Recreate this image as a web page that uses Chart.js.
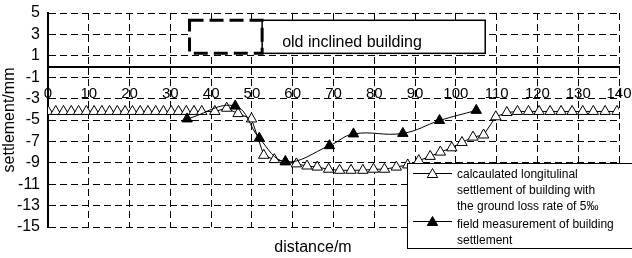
<!DOCTYPE html>
<html>
<head>
<meta charset="utf-8">
<script src="https://cdn.jsdelivr.net/npm/chart.js@4/dist/chart.umd.min.js"></script>
<style>
  body { margin: 0; background: #fff; }
  #box { width: 632px; height: 258px; position: relative; }
</style>
</head>
<body>
<div id="box"><canvas id="grafico"></canvas></div>
<script>
// ticks
const xTicks = [0, 10, 20, 30, 40, 50, 60, 70, 80, 90, 100, 110, 120, 130, 140];
const yTicks = [-15, -13, -11, -9, -7, -5, -3, -1, 1, 3, 5];

// calculated settlement (open triangles)
const calcX = [0, 1.9, 3.8, 5.7, 7.5, 9.4, 11.3, 13.2, 15.1, 17.0, 18.9, 20.7, 22.6, 24.5, 26.4, 28.3, 30.2, 32.0, 33.9, 35.8, 37.7,
  40.9, 43.8, 46.6, 49.9, 52.9, 55.5, 58.2, 60.9, 63.5, 66.0, 68.8, 71.5, 74.3, 77.2, 79.8, 82.5, 85.4, 88.2, 90.9,
  93.7, 96.2, 99.0, 101.5, 104.2, 106.8, 109.8, 112.5, 115.1, 117.8, 120.4, 123.1, 125.8, 128.5, 131.1, 133.7, 136.6, 139.5];
const calcY = [-4.2, -4.2, -4.2, -4.2, -4.2, -4.2, -4.2, -4.2, -4.2, -4.2, -4.2, -4.2, -4.2, -4.2, -4.2, -4.2, -4.2, -4.2, -4.2, -4.2, -4.2,
  -4.2, -3.9, -4.4, -4.9, -8.3, -8.7, -8.9, -9.1, -9.3, -9.4, -9.6, -9.7, -9.7, -9.7, -9.6, -9.6, -9.4, -9.2, -8.8,
  -8.4, -8.0, -7.6, -7.1, -6.6, -6.4, -4.7, -4.3, -4.2, -4.2, -4.2, -4.2, -4.2, -4.2, -4.2, -4.2, -4.2, -4.2];

// field measurement (filled triangles)
const measX = [34.1, 45.9, 51.8, 58.2, 69.0, 74.9, 87.0, 96.0, 105.0];
const measY = [-4.9, -3.7, -6.7, -8.9, -7.4, -6.3, -6.25, -5.05, -4.1];

const legendLabels = [
  ["calcaulated longitulinal", "settlement of building with", "the ground loss rate of 5‰"],
  ["field measurement of building", "settlement"]
];
const buildingLabel = "old inclined building";
const xTitle = "distance/m";
const yTitle = "settlement/mm";

// rettangoli dell'edificio (coordinate dati)
const building = { dashed: [34.7, 52.5], solid: [52.5, 107.2], top: 4.32, bottom: 1.23 };

const FONT = "'Liberation Sans', Arial, sans-serif";

function toPoints(xs, ys) {
  return xs.map((x, i) => ({ x: x, y: ys[i] }));
}

// niente padding automatico delle etichette
function noPad(s) {
  s.paddingLeft = 0; s.paddingRight = 0; s.paddingTop = 0; s.paddingBottom = 0;
}

function triangle(ctx, x, y, r, fill) {
  ctx.beginPath();
  ctx.moveTo(x, y - r);
  ctx.lineTo(x + r * 0.866, y + r * 0.5);
  ctx.lineTo(x - r * 0.866, y + r * 0.5);
  ctx.closePath();
  ctx.fillStyle = fill;
  ctx.fill();
  ctx.lineWidth = 1;
  ctx.strokeStyle = '#000';
  ctx.stroke();
}

// edificio + titolo asse x + legenda
const extras = {
  id: 'extras',
  beforeDatasetsDraw(chart) {
    const ctx = chart.ctx, xs = chart.scales.x, ys = chart.scales.y;
    const t = ys.getPixelForValue(building.top), b = ys.getPixelForValue(building.bottom);
    const s0 = xs.getPixelForValue(building.solid[0]), s1 = xs.getPixelForValue(building.solid[1]);
    const d0 = xs.getPixelForValue(building.dashed[0]), d1 = xs.getPixelForValue(building.dashed[1]);
    ctx.save();
    ctx.fillStyle = '#fff';
    ctx.fillRect(d0, t, s1 - d0, b - t);
    ctx.strokeStyle = '#000';
    ctx.lineWidth = 1.5;
    ctx.strokeRect(s0, t, s1 - s0, b - t);
    ctx.lineWidth = 3;
    ctx.setLineDash([14, 6]);
    ctx.strokeRect(d0, t, d1 - d0, b - t);
    ctx.setLineDash([]);
    ctx.fillStyle = '#000';
    ctx.font = '16px ' + FONT;
    ctx.textBaseline = 'alphabetic';
    ctx.fillText(buildingLabel, s0 + 20, b - 6);
    ctx.restore();
  },
  afterDraw(chart) {
    const ctx = chart.ctx;
    ctx.save();
    // titolo asse x
    ctx.fillStyle = '#000';
    ctx.font = '16px ' + FONT;
    ctx.textAlign = 'center';
    ctx.textBaseline = 'middle';
    ctx.fillText(xTitle, 313, 248);

    // legenda
    ctx.fillStyle = '#fff';
    ctx.fillRect(407, 163, 226, 86);
    ctx.strokeStyle = '#000';
    ctx.lineWidth = 1;
    ctx.strokeRect(407.5, 163.5, 226, 85);
    const rows = [173.5, 221.5];
    const fills = ['#fff', '#000'];
    let lineY = [[175, 191, 207], [225, 241]];
    ctx.font = '12px ' + FONT;
    ctx.textAlign = 'left';
    rows.forEach((ry, k) => {
      ctx.beginPath();
      ctx.moveTo(413, ry);
      ctx.lineTo(452, ry);
      ctx.strokeStyle = '#000';
      ctx.lineWidth = 1;
      ctx.stroke();
      triangle(ctx, 432.5, ry + 1, 6, fills[k]);
      ctx.fillStyle = '#000';
      legendLabels[k].forEach((txt, j) => {
        ctx.fillText(txt, 457, lineY[k][j]);
      });
    });
    ctx.restore();
  }
};

new Chart(document.getElementById('grafico'), {
  type: 'line',
  data: {
    datasets: [{
      label: legendLabels[0].join(' '),
      data: toPoints(calcX, calcY),
      borderColor: '#000',
      borderWidth: 1,
      pointStyle: 'triangle',
      pointRadius: 6,
      pointBackgroundColor: '#fff',
      pointBorderColor: '#000',
      pointBorderWidth: 1,
      tension: 0,
      order: 1
    }, {
      label: legendLabels[1].join(' '),
      data: toPoints(measX, measY),
      borderColor: '#000',
      borderWidth: 1,
      pointStyle: 'triangle',
      pointRadius: 6,
      pointBackgroundColor: '#000',
      pointBorderColor: '#000',
      pointBorderWidth: 1,
      tension: 0.4,
      order: 0
    }]
  },
  options: {
    responsive: true,
    maintainAspectRatio: false,
    animation: false,
    events: [],
    layout: { padding: { top: 13, right: 13, bottom: 31, left: 0 } },
    plugins: { legend: { display: false }, tooltip: { enabled: false } },
    scales: {
      x: {
        type: 'linear',
        axis: 'x',
        position: { y: 0 },
        min: 0,
        max: 140,
        afterBuildTicks: s => { s.ticks = xTicks.map(v => ({ value: v })); },
        afterFit: noPad,
        grid: { color: '#000', lineWidth: 1, drawTicks: false },
        border: { display: true, color: '#000', width: 2, dash: [7, 4] },
        ticks: { color: '#000', font: { family: FONT, size: 15 }, padding: 18, autoSkip: false, maxRotation: 0 }
      },
      y: {
        type: 'linear',
        position: 'left',
        min: -15,
        max: 5,
        afterBuildTicks: s => { s.ticks = yTicks.map(v => ({ value: v })); },
        afterFit: s => { s.width = 48; noPad(s); },
        grid: { color: '#000', lineWidth: 1, drawTicks: false },
        border: { display: true, color: '#000', width: 2, dash: [7, 4] },
        ticks: { color: '#000', font: { family: FONT, size: 16 }, padding: 8, autoSkip: false },
        title: { display: true, text: yTitle, color: '#000', font: { family: FONT, size: 16 }, padding: { top: 0, bottom: 0 } }
      }
    }
  },
  plugins: [extras]
});
</script>
</body>
</html>
